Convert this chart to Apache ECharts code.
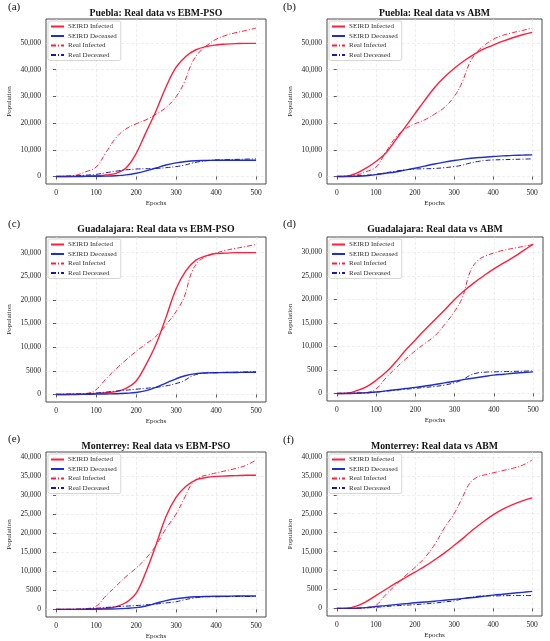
<!DOCTYPE html>
<html>
<head>
<meta charset="utf-8">
<script src="https://cdn.jsdelivr.net/npm/echarts@6/dist/echarts.min.js"></script>
<style>
  html, body { margin: 0; padding: 0; background: #fff; }
  #main { width: 550px; height: 641px; }
</style>
</head>
<body>
<div id="main"></div>
<script>
// x samples: model curves every 25 epochs, real data a bit finer near the jump
var epochs = [0, 25, 50, 75, 100, 125, 150, 175, 200, 225, 250, 275, 300, 325, 350, 375, 400, 425, 450, 475, 500];
var realEpochs = [0, 25, 50, 75, 100, 125, 150, 175, 200, 225, 250, 275, 300, 320, 340, 360, 380, 400, 425, 450, 475, 500];

// Puebla
var pueRealInf = [0, 100, 500, 1800, 3500, 9000, 14500, 17800, 19700, 21200, 23300, 25800, 29800, 35000, 42500, 46800, 49300, 51300, 52800, 53800, 54600, 55500];
var pueRealDec = [0, 100, 250, 500, 800, 1400, 2000, 2500, 2800, 2900, 3000, 3300, 3700, 4200, 5000, 5600, 6000, 6200, 6300, 6400, 6500, 6600];
var pueEbmInf = [0, 0, 50, 150, 300, 600, 1200, 3200, 8500, 16500, 24500, 33500, 40800, 45000, 47400, 48600, 49200, 49500, 49700, 49800, 49800];
var pueEbmDec = [0, 0, 0, 50, 100, 150, 300, 600, 1200, 2100, 3200, 4300, 5100, 5600, 5900, 6000, 6100, 6100, 6100, 6100, 6100];
var pueAbmInf = [0, 100, 1200, 3100, 5600, 8700, 13500, 18500, 23500, 28500, 33200, 37100, 40400, 43200, 45600, 47600, 49100, 50600, 51900, 53000, 53900];
var pueAbmDec = [0, 0, 100, 300, 700, 1200, 1700, 2400, 3100, 3900, 4700, 5400, 6000, 6500, 6900, 7200, 7500, 7700, 7900, 8000, 8100];

// Guadalajara
var gdlRealInf = [0, 50, 100, 200, 1000, 3300, 5400, 7300, 9100, 10700, 12300, 14700, 17500, 20500, 26000, 28400, 29300, 29900, 30500, 30900, 31300, 31700];
var gdlRealDec = [0, 50, 100, 150, 300, 500, 700, 900, 1100, 1300, 1500, 1800, 2300, 2900, 3900, 4400, 4550, 4600, 4650, 4700, 4750, 4800];
var gdlEbmInf = [0, 0, 50, 100, 200, 350, 600, 1300, 2800, 6300, 10600, 16300, 22300, 26200, 28400, 29300, 29800, 29900, 30000, 30000, 30000];
var gdlEbmDec = [0, 0, 0, 30, 60, 100, 150, 250, 400, 800, 1500, 2400, 3300, 4000, 4400, 4550, 4600, 4650, 4650, 4700, 4700];
var gdlAbmInf = [0, 50, 600, 1400, 2800, 4500, 6700, 9200, 11400, 13600, 15700, 17800, 20000, 21900, 23600, 25100, 26500, 27800, 29000, 30400, 31800];
var gdlAbmDec = [0, 0, 50, 150, 300, 550, 800, 1050, 1300, 1600, 1900, 2250, 2600, 3000, 3300, 3600, 3900, 4100, 4300, 4450, 4600];

// Monterrey
var mtyRealInf = [0, 0, 50, 200, 800, 3600, 6100, 8600, 10800, 13400, 16800, 21200, 25000, 29000, 33000, 34700, 35300, 35800, 36400, 37000, 37800, 39200];
var mtyRealDec = [0, 0, 50, 150, 300, 500, 700, 850, 1000, 1200, 1400, 1700, 2000, 2500, 2900, 3200, 3300, 3300, 3350, 3400, 3400, 3400];
var mtyEbmInf = [0, 0, 0, 50, 150, 300, 700, 1800, 4200, 9900, 16900, 24400, 29400, 32300, 34000, 34600, 34900, 35000, 35100, 35200, 35200];
var mtyEbmDec = [0, 0, 0, 20, 50, 80, 120, 250, 450, 900, 1600, 2300, 2800, 3100, 3300, 3400, 3450, 3450, 3500, 3500, 3500];
var mtyAbmInf = [0, 50, 600, 1800, 3400, 5000, 6600, 8100, 9600, 11100, 12800, 14600, 16600, 18700, 20900, 22900, 24700, 26200, 27400, 28400, 29200];
var mtyAbmDec = [0, 0, 50, 200, 500, 750, 1000, 1250, 1500, 1700, 1900, 2150, 2400, 2650, 2900, 3200, 3500, 3750, 4000, 4250, 4500];

// tick labels
var xTicks = [0, 100, 200, 300, 400, 500];
var yTicksPue = [0, 10000, 20000, 30000, 40000, 50000];
var yTicksGdl = [0, 5000, 10000, 15000, 20000, 25000, 30000];
var yTicksMty = [0, 5000, 10000, 15000, 20000, 25000, 30000, 35000, 40000];

var titles = [
  'Puebla: Real data vs EBM-PSO', 'Puebla: Real data vs ABM',
  'Guadalajara: Real data vs EBM-PSO', 'Guadalajara: Real data vs ABM',
  'Monterrey: Real data vs EBM-PSO', 'Monterrey: Real data vs ABM'
];
var tags = ['(a)', '(b)', '(c)', '(d)', '(e)', '(f)'];
var names = ['SEIRD Infected', 'SEIRD Deceased', 'Real Infected', 'Real Deceased'];

var panels = [
  { inf: pueEbmInf, dec: pueEbmDec, rInf: pueRealInf, rDec: pueRealDec, ticks: yTicksPue, min: -2800, max: 58900 },
  { inf: pueAbmInf, dec: pueAbmDec, rInf: pueRealInf, rDec: pueRealDec, ticks: yTicksPue, min: -2800, max: 58900 },
  { inf: gdlEbmInf, dec: gdlEbmDec, rInf: gdlRealInf, rDec: gdlRealDec, ticks: yTicksGdl, min: -1600, max: 33300 },
  { inf: gdlAbmInf, dec: gdlAbmDec, rInf: gdlRealInf, rDec: gdlRealDec, ticks: yTicksGdl, min: -1600, max: 33300 },
  { inf: mtyEbmInf, dec: mtyEbmDec, rInf: mtyRealInf, rDec: mtyRealDec, ticks: yTicksMty, min: -2000, max: 41300 },
  { inf: mtyAbmInf, dec: mtyAbmDec, rInf: mtyRealInf, rDec: mtyRealDec, ticks: yTicksMty, min: -2000, max: 41300 }
];

// layout in px: [left, top, width, height]
var boxes = [
  [46, 19, 220, 165], [327, 19, 215, 165],
  [46, 237, 220, 165], [327, 237, 216, 164],
  [46, 452, 220, 166], [327, 452, 215, 164]
];
var titleY = [8, 8, 224, 224, 441, 441];
var tagPos = [[8, 2], [283, 2], [8, 219], [283, 219], [8, 434], [283, 435]];

var FONT = 'Liberation Serif';
var RED = '#ff1f3d';
var BLUE = '#2030c8';
var NAVY = '#1a1aa8';

function zip(xs, ys) {
  return xs.map(function (x, i) { return [x, ys[i]]; });
}
function fmt(v) {
  return v >= 10000 ? v.toLocaleString('en-US') : String(v);
}

var grid = [], xAxis = [], yAxis = [], title = [], legend = [], series = [];

panels.forEach(function (p, i) {
  var b = boxes[i];
  grid.push({ left: b[0], top: b[1], width: b[2], height: b[3], show: true,
    borderColor: '#4a4a4a', borderWidth: 1, backgroundColor: '#fff' });

  xAxis.push({
    type: 'value', gridIndex: i, min: -25, max: 525,
    name: 'Epochs', nameLocation: 'middle', nameGap: 16,
    nameTextStyle: { fontFamily: FONT, fontSize: 7, color: '#222' },
    axisLine: { show: false },
    axisTick: { show: true, length: 3, lineStyle: { color: '#333', width: 0.8 }, customValues: xTicks },
    axisLabel: { fontFamily: FONT, fontSize: 7.5, color: '#222', margin: 5, customValues: xTicks },
    splitLine: { show: true, lineStyle: { color: '#e2e2e2', width: 0.6, type: [3, 2] } }
  });

  yAxis.push({
    type: 'value', gridIndex: i, min: p.min, max: p.max,
    name: 'Population', nameLocation: 'middle', nameGap: 33, nameRotate: 90,
    nameTextStyle: { fontFamily: FONT, fontSize: 7, color: '#222' },
    axisLine: { show: false },
    axisTick: { show: true, length: 3, lineStyle: { color: '#333', width: 0.8 }, customValues: p.ticks },
    axisLabel: { fontFamily: FONT, fontSize: 7.5, color: '#222', margin: 5, customValues: p.ticks, formatter: fmt },
    splitLine: { show: true, lineStyle: { color: '#e2e2e2', width: 0.6, type: [3, 2] } }
  });

  title.push({
    text: titles[i], left: b[0] + b[2] / 2, top: titleY[i], textAlign: 'center', padding: 0,
    textStyle: { fontFamily: FONT, fontSize: 9.8, fontWeight: 'bold', color: '#111' }
  });
  title.push({
    text: tags[i], left: tagPos[i][0], top: tagPos[i][1], padding: 0,
    textStyle: { fontFamily: FONT, fontSize: 11, fontWeight: 'normal', color: '#111' }
  });

  legend.push({
    data: names, orient: 'vertical', align: 'left',
    left: b[0] + 2, top: b[1] + 2,
    itemWidth: 13, itemHeight: 6, itemGap: 2.5,
    padding: [2, 4, 2, 2],
    borderColor: '#cccccc', borderWidth: 0.8, borderRadius: 2,
    backgroundColor: 'rgba(255,255,255,0.85)',
    itemStyle: { color: 'transparent', opacity: 0, borderWidth: 0 },
    textStyle: { fontFamily: FONT, fontSize: 7, color: '#333', padding: [0, 0, 0, -1] },
    selectedMode: false
  });

  var base = { type: 'line', xAxisIndex: i, yAxisIndex: i, showSymbol: false, symbol: 'none',
    smooth: 0.4, animation: false };
  series.push(Object.assign({}, base, { name: names[0], data: zip(epochs, p.inf),
    lineStyle: { color: RED, width: 1.4 }, itemStyle: { color: RED }, z: 3 }));
  series.push(Object.assign({}, base, { name: names[1], data: zip(epochs, p.dec),
    lineStyle: { color: BLUE, width: 1.4 }, itemStyle: { color: BLUE }, z: 3 }));
  series.push(Object.assign({}, base, { name: names[2], data: zip(realEpochs, p.rInf),
    lineStyle: { color: RED, width: 1, type: [5, 2, 1, 2] }, itemStyle: { color: RED }, z: 4 }));
  series.push(Object.assign({}, base, { name: names[3], data: zip(realEpochs, p.rDec),
    lineStyle: { color: NAVY, width: 1, type: [5, 2, 1, 2] }, itemStyle: { color: NAVY }, z: 4 }));
});

var chart = echarts.init(document.getElementById('main'), null, { renderer: 'canvas' });
chart.setOption({
  backgroundColor: '#fff',
  animation: false,
  title: title,
  legend: legend,
  grid: grid,
  xAxis: xAxis,
  yAxis: yAxis,
  series: series
});
</script>
</body>
</html>
